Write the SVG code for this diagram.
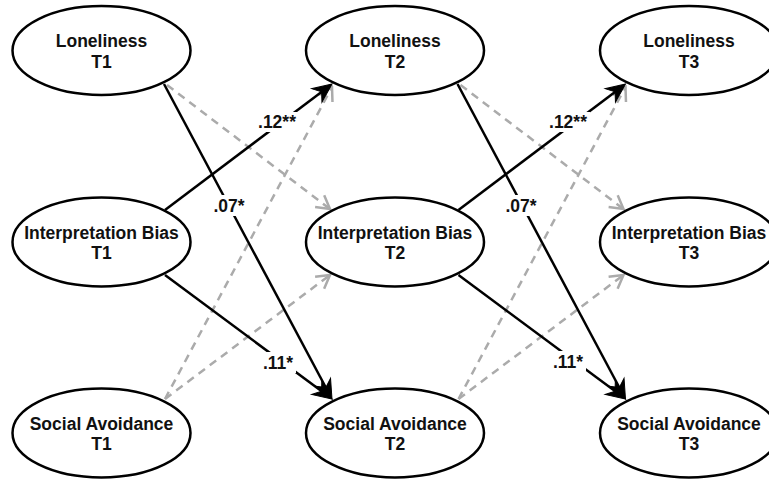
<svg xmlns="http://www.w3.org/2000/svg" width="769" height="481" viewBox="0 0 769 481">
  <style>
    .node ellipse { fill: #ffffff; stroke: #000000; stroke-width: 2.5; }
    .node text { font-family: "Liberation Sans", Arial, Helvetica, sans-serif; font-weight: bold; font-size: 17.5px; fill: #111111; text-anchor: middle; }
    .sig { fill: none; stroke: #000000; stroke-width: 2.5; marker-end: url(#arrowSolid); }
    .ns { fill: none; stroke: #ababab; stroke-width: 2.5; stroke-dasharray: 8 6; marker-end: url(#arrowOpen); }
    .coef rect { fill: #ffffff; }
    .coef text { font-family: "Liberation Sans", Arial, Helvetica, sans-serif; font-weight: bold; font-size: 17.5px; fill: #111111; text-anchor: middle; }
  </style>
  <defs>
    <marker id="arrowSolid" markerUnits="userSpaceOnUse" viewBox="-22 -11 24 22" markerWidth="24" markerHeight="22" refX="-4" refY="0" orient="auto">
      <path d="M0,0 L-19,-8.5 L-13,0 L-19,8.5 Z" fill="#000000" stroke="#000000" stroke-width="1" stroke-linejoin="miter"/>
    </marker>
    <marker id="arrowOpen" markerUnits="userSpaceOnUse" viewBox="-18 -11 20 22" markerWidth="20" markerHeight="22" refX="0" refY="0" orient="auto">
      <path d="M-13,-7.5 L0,0 L-13,7.5" fill="none" stroke="#ababab" stroke-width="2.5" stroke-dasharray="none"/>
    </marker>
  </defs>

  <g id="connectors">
    <!-- wave 1 to wave 2 -->
    <path class="ns" d="M167,85 L330,209"/>
    <path class="ns" d="M165,399 L330,275"/>
    <path class="ns" d="M165,399 L332,87"/>
    <path class="sig" d="M165,210 L328.8,86.4"/>
    <path class="sig" d="M164,84 L330.1,395.5"/>
    <path class="sig" d="M165,275 L328.8,396.6"/>
    <!-- wave 2 to wave 3 -->
    <path class="ns" d="M460.5,85 L623.5,209"/>
    <path class="ns" d="M458.5,399 L623.5,275"/>
    <path class="ns" d="M458.5,399 L625.5,87"/>
    <path class="sig" d="M458.5,210 L622.3,86.4"/>
    <path class="sig" d="M457.5,84 L623.6,395.5"/>
    <path class="sig" d="M458.5,275 L622.3,396.6"/>

    <!-- path coefficients -->
    <g class="coef">
      <rect x="256" y="112" width="43" height="20"/>
      <text x="277" y="128">.12**</text>
      <rect x="210" y="195" width="38" height="21"/>
      <text x="229" y="212">.07*</text>
      <rect x="260" y="352" width="36" height="21"/>
      <text x="278" y="369">.11*</text>

      <rect x="547" y="112" width="43" height="20"/>
      <text x="568" y="128">.12**</text>
      <rect x="502" y="195" width="38" height="21"/>
      <text x="521" y="212">.07*</text>
      <rect x="550" y="351" width="36" height="21"/>
      <text x="568" y="368">.11*</text>
    </g>
  </g>

  <g id="loneliness-t1" class="node">
    <ellipse cx="101.5" cy="50.5" rx="89" ry="44.5"/>
    <text x="101.5" y="47">Loneliness</text>
    <text x="101.5" y="68">T1</text>
  </g>
  <g id="interpretation-bias-t1" class="node">
    <ellipse cx="101.5" cy="242" rx="89" ry="44.5"/>
    <text x="101.5" y="239">Interpretation Bias</text>
    <text x="101.5" y="259">T1</text>
  </g>
  <g id="social-avoidance-t1" class="node">
    <ellipse cx="101.5" cy="433" rx="89" ry="44.5"/>
    <text x="101.5" y="430">Social Avoidance</text>
    <text x="101.5" y="450">T1</text>
  </g>

  <g id="loneliness-t2" class="node">
    <ellipse cx="395" cy="50.5" rx="89" ry="44.5"/>
    <text x="395" y="47">Loneliness</text>
    <text x="395" y="68">T2</text>
  </g>
  <g id="interpretation-bias-t2" class="node">
    <ellipse cx="395" cy="242" rx="89" ry="44.5"/>
    <text x="395" y="239">Interpretation Bias</text>
    <text x="395" y="259">T2</text>
  </g>
  <g id="social-avoidance-t2" class="node">
    <ellipse cx="395" cy="433" rx="89" ry="44.5"/>
    <text x="395" y="430">Social Avoidance</text>
    <text x="395" y="450">T2</text>
  </g>

  <g id="loneliness-t3" class="node">
    <ellipse cx="689" cy="50.5" rx="89" ry="44.5"/>
    <text x="689" y="47">Loneliness</text>
    <text x="689" y="68">T3</text>
  </g>
  <g id="interpretation-bias-t3" class="node">
    <ellipse cx="689" cy="242" rx="89" ry="44.5"/>
    <text x="689" y="239">Interpretation Bias</text>
    <text x="689" y="259">T3</text>
  </g>
  <g id="social-avoidance-t3" class="node">
    <ellipse cx="689" cy="433" rx="89" ry="44.5"/>
    <text x="689" y="430">Social Avoidance</text>
    <text x="689" y="450">T3</text>
  </g>
</svg>
